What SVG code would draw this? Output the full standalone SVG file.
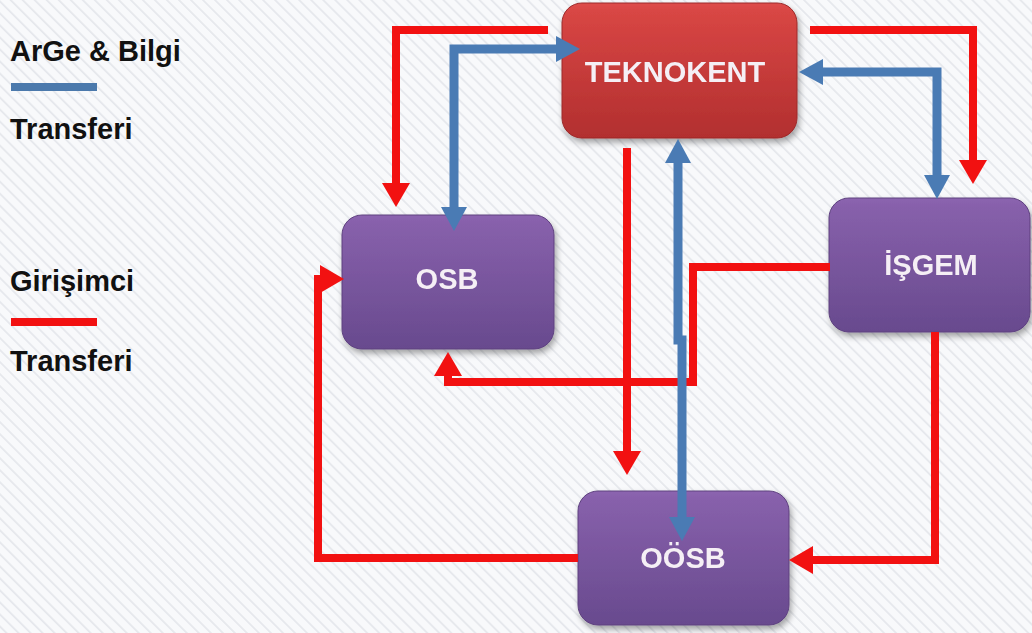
<svg xmlns="http://www.w3.org/2000/svg" width="1032" height="633" viewBox="0 0 1032 633">
<style>
.legend{font-family:"Liberation Sans",Arial,sans-serif;font-size:29px;font-weight:bold;fill:#111111}
.label{font-family:"Liberation Sans",Arial,sans-serif;font-size:29px;font-weight:bold;fill:#f5eff5;text-anchor:middle}
.red{fill:none;stroke:#f21111;stroke-width:8;stroke-linejoin:miter}
.blue{fill:none;stroke:#4a7bb4;stroke-width:9;stroke-linejoin:miter}
.purple{fill:url(#gPurple);stroke:#5e417f;stroke-width:1}
.redbox{fill:url(#gRed);stroke:#9c2a2a;stroke-width:1}
</style>
<defs>
<pattern id="stripes" width="8.5" height="8.5" patternUnits="userSpaceOnUse" patternTransform="rotate(45)">
<rect width="8.5" height="8.5" fill="#f8f9fb"/>
<line x1="0" y1="1" x2="8.5" y2="1" stroke="#e4e6eb" stroke-width="1.6"/>
</pattern>
<linearGradient id="gPurple" x1="0" y1="0" x2="0" y2="1">
<stop offset="0" stop-color="#8c64b0"/>
<stop offset="0.06" stop-color="#8760ab"/>
<stop offset="1" stop-color="#684a8e"/>
</linearGradient>
<linearGradient id="gRed" x1="0" y1="0" x2="0" y2="1">
<stop offset="0" stop-color="#de4d4b"/>
<stop offset="0.06" stop-color="#d84644"/>
<stop offset="1" stop-color="#b22f2f"/>
</linearGradient>
<filter id="shadow" x="-10%" y="-10%" width="125%" height="130%">
<feDropShadow dx="2" dy="4" stdDeviation="3" flood-color="#000" flood-opacity="0.35"/>
</filter>
<marker id="aRed" markerUnits="userSpaceOnUse" markerWidth="24" markerHeight="28" refX="0" refY="14" orient="auto-start-reverse" viewBox="0 0 24 28">
<path d="M0,0 L24,14 L0,28 z" fill="#f21111"/>
</marker>
<marker id="aBlue" markerUnits="userSpaceOnUse" markerWidth="24" markerHeight="26" refX="0" refY="13" orient="auto-start-reverse" viewBox="0 0 24 26">
<path d="M0,0 L24,13 L0,26 z" fill="#4a7bb4"/>
</marker>
</defs>

<rect width="1032" height="633" fill="url(#stripes)"/>

<g id="legend">
<text class="legend" x="10" y="61">ArGe &amp; Bilgi</text>
<rect x="11" y="83" width="86" height="8" fill="#4b79ac"/>
<text class="legend" x="10" y="139">Transferi</text>
<text class="legend" x="10" y="291">Girişimci</text>
<rect x="11" y="318" width="86" height="8" fill="#f21111"/>
<text class="legend" x="10" y="371">Transferi</text>
</g>

<g id="node-teknokent" filter="url(#shadow)">
<rect class="redbox" x="562" y="3" width="235" height="135" rx="20"/>
<text class="label" x="675" y="82">TEKNOKENT</text>
</g>
<g id="node-osb" filter="url(#shadow)">
<rect class="purple" x="342" y="215" width="212" height="134" rx="20"/>
<text class="label" x="447" y="289">OSB</text>
</g>
<g id="node-isgem" filter="url(#shadow)">
<rect class="purple" x="829" y="198" width="201" height="134" rx="20"/>
<text class="label" x="931" y="275">İŞGEM</text>
</g>
<g id="node-oosb" filter="url(#shadow)">
<rect class="purple" x="578" y="491" width="211" height="134" rx="20"/>
<text class="label" x="683" y="568">OÖSB</text>
</g>

<g id="connectors">
<path class="red" d="M548,30 H396 V183" marker-end="url(#aRed)"/>
<path class="red" d="M810,30 H973 V160" marker-end="url(#aRed)"/>
<path class="red" d="M830,267 H693 V382 H448 V376" marker-end="url(#aRed)"/>
<path class="red" d="M627,148 V451" marker-end="url(#aRed)"/>
<path class="red" d="M935,332 V560 H813" marker-end="url(#aRed)"/>
<path class="red" d="M578,558 H318 V279 H320" marker-end="url(#aRed)"/>
<path class="blue" d="M454,207 V49 H556" marker-start="url(#aBlue)" marker-end="url(#aBlue)"/>
<path class="blue" d="M823,72 H937 V175" marker-start="url(#aBlue)" marker-end="url(#aBlue)"/>
<path class="blue" d="M678,163 V340 H682 V517" marker-start="url(#aBlue)" marker-end="url(#aBlue)"/>
</g>
</svg>
